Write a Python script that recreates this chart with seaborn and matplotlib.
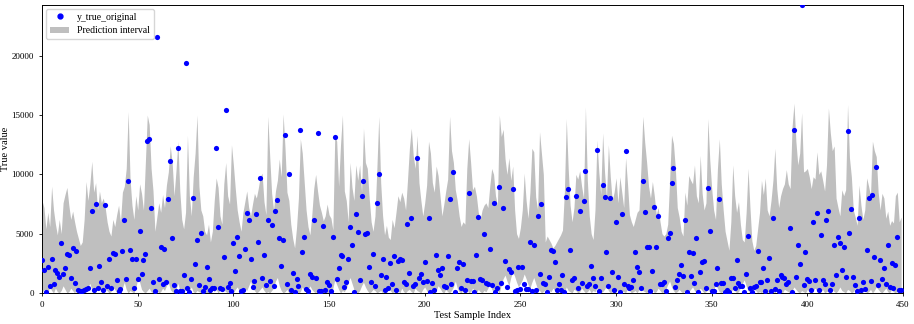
import numpy as np
import matplotlib
matplotlib.use('Agg')
import matplotlib.pyplot as plt
import seaborn as sns
from matplotlib.patches import Patch
from matplotlib.lines import Line2D

y_true = [
    2750, 1900, 100, 2200, 600, 2850, 730, 1950, 1650, 1300,
    4200, 1570, 2080, 3260, 3200, 1240, 3800, 840, 3500, 250,
    150, 150, 250, 350, 450, 2080, 6950, 250, 7540, 400,
    2300, 960, 250, 7430, 550, 2870, 400, 3350, 3300, 1070,
    200, 340, 3540, 6160, 1200, 9400, 3660, 2870, 450, 2870,
    1180, 5180, 1630, 2760, 3320, 12850, 13000, 7200, 960, 200,
    21580, 1180, 3880, 790, 3710, 900, 7900, 11100, 4600, 680,
    200, 12200, 200, 200, 1520, 19400, 400, 100, 1150, 8000,
    2420, 4470, 680, 5060, 170, 530, 2220, 1180, 250, 400,
    400, 12200, 5600, 400, 340, 3010, 15400, 530, 820, 200,
    4250, 1850, 4730, 3150, 170, 250, 3740, 6720, 6160, 2870,
    530, 1010, 6640, 4280, 9730, 1290, 3200, 680, 6160, 1010,
    5740, 620, 6920, 7800, 4670, 2250, 4440, 13300, 790, 10070,
    230, 1660, 100, 1210, 590, 13780, 3430, 4750, 340, 200,
    1630, 1320, 6160, 1260, 13470, 200, 170, 5680, 250, 960,
    680, 200, 4750, 13190, 1180, 2140, 3200, 3150, 530, 900,
    2870, 5570, 4000, 100, 6670, 5150, 1100, 8200, 9400, 4950,
    5090, 2170, 960, 3240, 620, 7570, 10000, 1490, 2840, 230,
    1380, 400, 2530, 790, 3150, 230, 2730, 2900, 2780, 960,
    730, 5820, 1690, 6360, 620, 730, 11420, 1240, 1630, 960,
    2640, 1010, 6360, 100, 840, 250, 3200, 1910, 1520, 2140,
    620, 530, 3090, 7880, 730, 10240, 100, 2080, 2620, 450,
    2420, 230, 1100, 8440, 1010, 1010, 100, 3200, 6440, 1180,
    1070, 4950, 820, 790, 3710, 650, 7620, 100, 400, 8970,
    820, 7200, 2700, 530, 2030, 1740, 8750, 170, 250, 2190,
    310, 2190, 790, 370, 370, 4330, 200, 4000, 230, 6500,
    1580, 7480, 820, 790, 100, 1380, 3630, 3540, 2590, 250,
    760, 230, 1520, 100, 8100, 8780, 3660, 1120, 1240, 8210,
    400, 6920, 840, 7790, 10300, 620, 790, 2300, 1240, 590,
    12070, 200, 1240, 9090, 8130, 3430, 620, 7990, 1740, 230,
    5990, 1350, 100, 6640, 760, 11980, 620, 400, 530, 1120,
    3490, 2220, 1800, 400, 9400, 6860, 3880, 3910, 170, 1880,
    7260, 3880, 6470, 790, 730, 960, 170, 4670, 5060, 9310,
    10550, 510, 1070, 1580, 2330, 1460, 6190, 100, 3430, 1460,
    3380, 850, 4590, 100, 1800, 2620, 2700, 450, 8890, 5260,
    170, 170, 790, 2140, 7900, 840, 870, 100, 250, 100,
    1240, 1290, 450, 2810, 820, 590, 620, 100, 1630, 4840,
    400, 80, 530, 620, 3570, 960, 900, 2080, 170, 1120,
    2980, 170, 6360, 340, 1120, 170, 1520, 1380, 1240, 790,
    960, 5460, 100, 13760, 1350, 4000, 2420, 24300, 680, 3460,
    1180, 1010, 250, 5990, 1070, 6750, 250, 4920, 1070, 730,
    6130, 6920, 230, 730, 4050, 1520, 4750, 4250, 1910, 3880,
    1300, 13670, 5090, 7090, 1320, 680, 170, 6300, 230, 900,
    340, 3630, 8020, 1010, 8270, 3040, 10630, 680, 2810, 1180,
    2140, 760, 4050, 530, 2530, 400, 2330, 4750, 230, 230,
]

# upper bound of the prediction interval
upper = [
    7800, 7200, 5400, 6800, 5600, 9000, 7000, 5800, 4900, 6200,
    5000, 7600, 8300, 8900, 7400, 6200, 6900, 6000, 5200, 4600,
    4000, 4300, 6200, 9400, 7800, 9200, 11100, 8500, 9300, 7000,
    8600, 7600, 8000, 7200, 6000, 5200, 4800, 6200, 5600, 6600,
    7400, 6000, 8500, 9000, 10500, 15300, 9600, 7400, 6200, 8200,
    7000, 9200, 8400, 7000, 11000, 15000, 14200, 10500, 8600, 5200,
    6400, 7600, 6800, 8300, 7200, 9100, 10200, 12400, 11000, 8200,
    10300, 12800, 8600, 6200, 5400, 6800, 13300, 8200, 6500, 9800,
    11800, 15000, 9000, 7000, 6500, 5200, 4900, 5800, 4300, 5200,
    7800, 9700, 8900, 6500, 5800, 9200, 11000, 8200, 7500, 12500,
    10800, 8800, 7000, 6000, 5200, 6800, 7700, 8600, 7200, 6500,
    7500, 8400, 8000, 8800, 9800, 10100, 7700, 6600, 14900, 11500,
    8400, 7000, 8600, 9500, 11300, 9800, 15100, 12200, 8500, 7800,
    5800, 4600, 3800, 5500, 8000, 13000, 11800, 9400, 7000, 5600,
    4900, 6600, 8800, 10000, 8600, 7400, 6800, 6100, 6500, 7500,
    6600, 6300, 5300, 13300, 12800, 9000, 12500, 15000, 8600, 7800,
    6000, 11000, 8900, 7800, 10800, 9500, 10800, 8500, 13900, 11000,
    10500, 8000, 6000, 5200, 6500, 10500, 14900, 9300, 6500, 4900,
    5700, 4700, 4500, 6200, 5500, 6800, 8200, 7700, 8500, 8000,
    7000, 9500, 12200, 13900, 11600, 10500, 13300, 9300, 7800, 6500,
    7600, 9100, 12800, 11800, 9300, 8500, 10700, 9900, 8200, 6500,
    7500, 8600, 9600, 14900, 12000, 11000, 8700, 7800, 6500, 5600,
    6000, 5800, 10500, 13000, 11000, 8700, 9000, 8200, 6800, 6200,
    7000, 7400, 7600, 7200, 9000, 10500, 10000, 8200, 7400, 15000,
    13200, 13800, 11300, 10000, 11400, 9500, 10700, 7000, 5000, 4600,
    5500, 7000, 10100, 7800, 6300, 8500, 12200, 11900, 8100, 7000,
    13600, 11800, 10000, 4300, 4800, 4500, 4200, 3800, 4000, 4300,
    4600, 4900, 5300, 8500, 14700, 10500, 7400, 6000, 7200, 10000,
    9600, 10300, 9000, 8000, 15700, 9500, 6500, 5000, 4500, 7000,
    12900, 10200, 8300, 13500, 10200, 8000, 12500, 9800, 7800, 8500,
    9700, 7600, 9800, 8500, 7200, 11400, 9200, 6600, 6000, 5600,
    6200, 6800, 7000, 10500, 14900, 12700, 11000, 9000, 8000, 9400,
    8200, 6600, 7200, 6000, 5000, 4800, 5000, 5800, 9500, 13300,
    12600, 10500, 7200, 6400, 5200, 4800, 8500, 7400, 9900, 9500,
    9200, 10800, 8200, 7600, 11600, 8400, 7000, 7600, 14700, 11200,
    8800, 7000, 6200, 10500, 13000, 9200, 7000, 5200, 4400, 3600,
    6000, 10800, 8200, 6800, 7700, 5800, 4500, 4300, 6800, 10500,
    7200, 4400, 3600, 4000, 5400, 6800, 9500, 8300, 9700, 7000,
    6500, 7800, 9500, 12200, 8800, 7200, 8200, 8800, 9200, 10400,
    9200, 8800, 14000, 16000, 12800, 10800, 11800, 15200, 10200, 10300,
    10500, 9800, 8800, 9800, 9600, 11900, 10000, 10300, 9500, 8600,
    10800, 15600, 13500, 12000, 12400, 8000, 7200, 6500, 8700, 8200,
    8700, 15900, 11400, 9800, 7000, 6400, 5700, 9100, 7400, 6200,
    7000, 9700, 9000, 8200, 12800, 12000, 11500, 8500, 7000, 8400,
    8000, 6300, 6900, 5700, 6100, 5900, 8200, 8500, 6000, 6400,
]

# lower bound of the prediction interval
lower = [
    0, 300, 100, 0, 500, 200, 0, 400, 100, 0,
    200, 600, 300, 0, 100, 400, 200, 0, 300, 100,
    0, 200, 0, 100, 500, 800, 300, 0, 200, 600,
    400, 100, 0, 300, 200, 0, 100, 500, 300, 0,
    200, 100, 400, 900, 300, 0, 200, 100, 0, 400,
    1200, 900, 300, 100, 0, 200, 400, 100, 0, 300,
    200, 0, 100, 400, 200, 600, 900, 300, 100, 0,
    300, 800, 200, 0, 100, 300, 0, 200, 500, 100,
    0, 200, 100, 0, 300, 100, 0, 0, 200, 400,
    100, 300, 0, 200, 600, 300, 100, 0, 200, 100,
    0, 300, 500, 200, 100, 0, 400, 200, 600, 1000,
    400, 200, 0, 100, 300, 500, 200, 0, 100, 0,
    200, 400, 1000, 1300, 600, 200, 0, 100, 300, 0,
    100, 0, 300, 200, 0, 100, 500, 200, 0, 100,
    600, 300, 100, 0, 200, 0, 100, 300, 200, 0,
    0, 200, 400, 1100, 700, 300, 0, 200, 100, 400,
    900, 1300, 800, 300, 100, 0, 200, 600, 900, 500,
    200, 0, 100, 300, 200, 0, 100, 200, 0, 300,
    100, 400, 200, 0, 100, 300, 200, 0, 400, 100,
    0, 200, 300, 100, 0, 400, 200, 100, 0, 300,
    500, 200, 0, 100, 300, 0, 200, 600, 400, 100,
    0, 300, 100, 0, 200, 500, 1000, 400, 100, 0,
    200, 100, 300, 0, 100, 400, 200, 0, 300, 100,
    0, 200, 100, 400, 900, 300, 100, 0, 200, 0,
    700, 1200, 1500, 1000, 600, 1300, 1800, 1400, 900, 500,
    800, 1100, 1600, 1200, 700, 400, 900, 1300, 800, 300,
    200, 0, 100, 300, 0, 200, 100, 400, 200, 0,
    100, 300, 200, 0, 500, 200, 100, 0, 300, 200,
    0, 100, 400, 200, 0, 100, 300, 0, 200, 100,
    400, 200, 0, 100, 300, 600, 200, 0, 100, 0,
    300, 100, 0, 200, 100, 0, 400, 200, 0, 100,
    200, 0, 300, 500, 200, 100, 0, 200, 100, 300,
    0, 100, 400, 200, 0, 100, 300, 700, 1000, 500,
    200, 0, 100, 300, 100, 0, 200, 0, 100, 300,
    500, 200, 0, 100, 400, 200, 0, 100, 300, 100,
    0, 200, 700, 400, 100, 0, 200, 300, 100, 0,
    100, 300, 200, 0, 100, 500, 800, 1100, 600, 200,
    0, 100, 300, 200, 0, 100, 0, 200, 400, 100,
    0, 300, 100, 0, 200, 400, 100, 0, 300, 200,
    100, 0, 200, 500, 300, 100, 0, 200, 100, 0,
    300, 100, 0, 200, 400, 200, 0, 100, 300, 0,
    100, 200, 0, 300, 100, 0, 200, 500, 200, 100,
    0, 300, 200, 0, 100, 400, 200, 0, 100, 300,
    200, 0, 100, 300, 0, 200, 500, 300, 100, 0,
    200, 400, 100, 0, 300, 100, 0, 200, 100, 0,
]

idx = np.arange(len(y_true))

plt.rcParams['font.family'] = ['Liberation Serif', 'DejaVu Serif']

fig = plt.figure(figsize=(9.14, 3.24), dpi=100)
ax = fig.add_axes([0.046, 0.096, 0.942, 0.889])

ax.fill_between(idx, lower, upper, color='gray', alpha=0.5, linewidth=0, zorder=1)
sns.scatterplot(x=idx, y=y_true, color='blue', s=14, linewidth=0, ax=ax, zorder=3)

ax.set_xlim(0, 450)
ax.set_ylim(0, max(y_true))
ax.set_xticks(np.arange(0, 451, 50))
ax.set_yticks(np.arange(0, 20001, 5000))
ax.tick_params(labelsize=6.5, length=2.5, width=0.6)
ax.set_xlabel('Test Sample Index', fontsize=7.5, labelpad=1)
ax.set_ylabel('True value', fontsize=7.5)
# keep the y label inside the figure
ax.yaxis.set_label_coords(-0.037, 0.5)
for s in ax.spines.values():
    s.set_linewidth(0.7)

handles = [
    Line2D([], [], marker='o', color='blue', linestyle='none', markersize=3.5),
    Patch(facecolor='gray', alpha=0.5, edgecolor='none'),
]
ax.legend(handles, ['y_true_original', 'Prediction interval'], loc='upper left',
          fontsize=7, frameon=True, borderaxespad=0.4, handlelength=2.0)

fig.savefig('out.png', dpi=100)
plt.close(fig)
